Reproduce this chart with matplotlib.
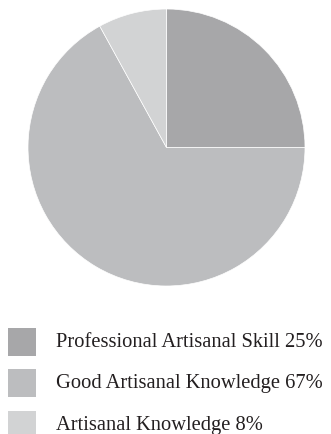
import matplotlib
matplotlib.use("Agg")
import matplotlib.pyplot as plt
from matplotlib.patches import Rectangle

labels = ["Professional Artisanal Skill 25%", "Good Artisanal Knowledge 67%", "Artisanal Knowledge 8%"]
values = [25, 67, 8]
colors = ["#a7a7a9", "#bcbdbf", "#d2d3d4"]

W, H = 331, 435
fig = plt.figure(figsize=(W/100, H/100), dpi=100)
cx, cy, r = 166.5, 148.5, 138.5
ax = fig.add_axes([(cx-r)/W, (H-cy-r)/H, 2*r/W, 2*r/H])
ax.pie(values, colors=colors, startangle=90, counterclock=False,
       wedgeprops=dict(edgecolor="white", linewidth=0.5))
ax.set_xlim(-1, 1); ax.set_ylim(-1, 1)
ax.axis("off")

row_y = [342.5, 384, 426]
for lab, col, y in zip(labels, colors, row_y):
    fig.patches.append(Rectangle((8/W, (H-y-14)/H), 28/W, 28/H, transform=fig.transFigure,
                                 facecolor=col, edgecolor="none"))
    fig.text(56/W, (H-y)/H, lab, fontsize=14.8, family="Liberation Serif",
             color="#231f20", va="center", ha="left")

fig.savefig("out.png", dpi=100)
